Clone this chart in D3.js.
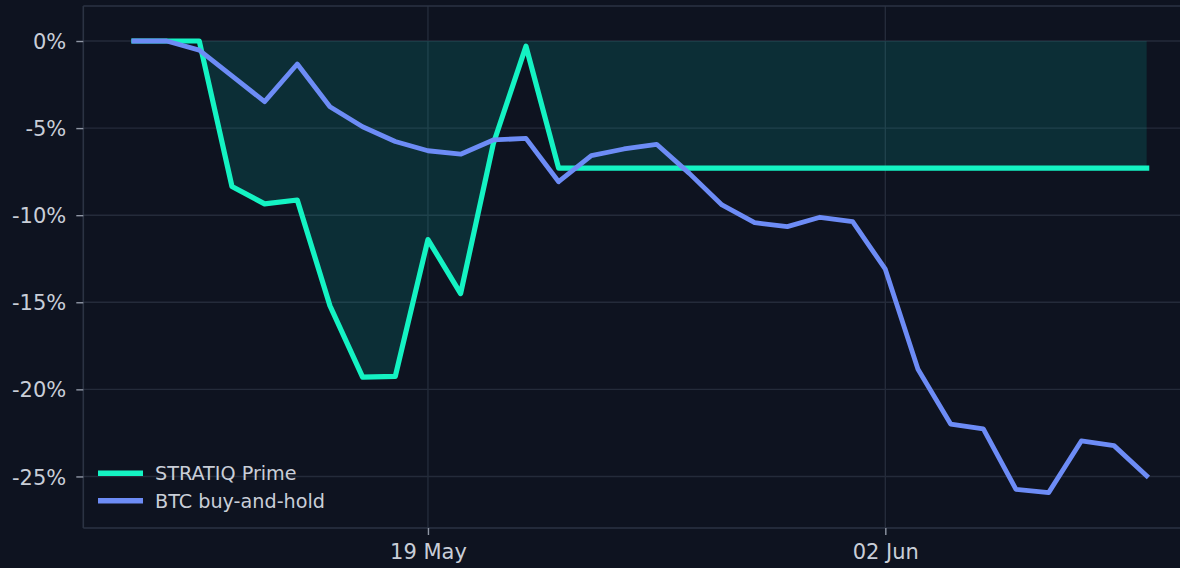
<!DOCTYPE html>
<html>
<head>
<meta charset="utf-8">
<script src="https://cdn.jsdelivr.net/npm/d3@7"></script>
<style>
  html, body { margin: 0; padding: 0; background: #0e1320; }
  svg { display: block; }
  text { font-family: "DejaVu Sans", sans-serif; }
</style>
</head>
<body>
<svg id="chart" width="1180" height="568"></svg>
<script>
const dates = ["2025-05-10","2025-05-11","2025-05-12","2025-05-13","2025-05-14","2025-05-15","2025-05-16","2025-05-17",
  "2025-05-18","2025-05-19","2025-05-20","2025-05-21","2025-05-22","2025-05-23","2025-05-24","2025-05-25",
  "2025-05-26","2025-05-27","2025-05-28","2025-05-29","2025-05-30","2025-05-31","2025-06-01","2025-06-02",
  "2025-06-03","2025-06-04","2025-06-05","2025-06-06","2025-06-07","2025-06-08","2025-06-09","2025-06-10"];
const stratiq = [0, 0, 0, -8.35, -9.35, -9.13, -15.2, -19.3, -19.25, -11.4, -14.5, -5.9, -0.3, -7.3,
  -7.3, -7.3, -7.3, -7.3, -7.3, -7.3, -7.3, -7.3, -7.3, -7.3, -7.3, -7.3, -7.3, -7.3, -7.3, -7.3, -7.3, -7.3];
const btc = [0, 0, -0.52, -2.0, -3.48, -1.32, -3.77, -4.92, -5.77, -6.3, -6.5, -5.68, -5.59, -8.08, -6.58, -6.2,
  -5.93, -7.6, -9.41, -10.43, -10.66, -10.12, -10.37, -13.1, -18.85, -21.99, -22.27, -25.74, -25.93, -22.96, -23.23, -24.97];
const yTicks = [0, -5, -10, -15, -20, -25];
const xTickLabels = ["2025-05-19", "2025-06-02"];
const seriesNames = ["STRATIQ Prime", "BTC buy-and-hold"];

const colors = { bg: "#0e1320", strat: "#14f3c3", fill: "#07c7b5", btc: "#6d8cf6", grid: "#242b3a", spine: "#2b3343", text: "#c9ced8", tick: "#9097a5" };

const parse = d3.utcParse("%Y-%m-%d");
const X = dates.map(parse);
const rows = X.map((d, i) => ({ d, s: stratiq[i], b: btc[i] }));

const svg = d3.select("#chart");
svg.append("rect").attr("width", 1180).attr("height", 568).attr("fill", colors.bg);

const dayMs = 86400000;
const pad = 1.55 * dayMs;
const x = d3.scaleUtc().domain([+X[0] - pad, +X[X.length - 1] + pad]).range([83.3, 1197.3]);
const y = d3.scaleLinear().domain([-27.96, 2.01]).range([528, 6]);

const L = 83.3, R = 1197.3, T = 6, B = 528;

// grid
svg.append("g").selectAll("line").data(yTicks).join("line")
  .attr("x1", L).attr("x2", R).attr("y1", d => y(d)).attr("y2", d => y(d))
  .attr("stroke", colors.grid).attr("stroke-width", 1.4);
svg.append("g").selectAll("line").data(xTickLabels.map(parse)).join("line")
  .attr("x1", d => x(d)).attr("x2", d => x(d)).attr("y1", T).attr("y2", B)
  .attr("stroke", colors.grid).attr("stroke-width", 1.4);

// fill between 0 and strategy
const area = d3.area().x(r => x(r.d)).y0(y(0)).y1(r => y(r.s));
svg.append("path").datum(rows).attr("d", area).attr("fill", colors.fill).attr("fill-opacity", 0.15);

// lines
const lineS = d3.line().x(r => x(r.d)).y(r => y(r.s));
const lineB = d3.line().x(r => x(r.d)).y(r => y(r.b));
svg.append("path").datum(rows).attr("d", lineS).attr("fill", "none")
  .attr("stroke", colors.strat).attr("stroke-width", 5.2).attr("stroke-linejoin", "round").attr("stroke-linecap", "square");
svg.append("path").datum(rows).attr("d", lineB).attr("fill", "none")
  .attr("stroke", colors.btc).attr("stroke-width", 4.8).attr("stroke-linejoin", "round").attr("stroke-linecap", "square");

// spines
svg.append("line").attr("x1", L).attr("x2", L).attr("y1", T).attr("y2", B).attr("stroke", colors.spine).attr("stroke-width", 1.6);
svg.append("line").attr("x1", L).attr("x2", R).attr("y1", T).attr("y2", T).attr("stroke", colors.spine).attr("stroke-width", 1.6);
svg.append("line").attr("x1", L).attr("x2", R).attr("y1", B).attr("y2", B).attr("stroke", colors.spine).attr("stroke-width", 1.6);

// axes
const yAxis = d3.axisLeft(y).tickValues(yTicks).tickSize(7).tickPadding(10).tickFormat(d => d + "%");
const gy = svg.append("g").attr("transform", `translate(${L},0)`).call(yAxis);
gy.select(".domain").remove();
gy.selectAll(".tick line").attr("stroke", colors.tick).attr("stroke-width", 1.4);
gy.selectAll(".tick text").attr("fill", colors.text).attr("font-size", 21).attr("font-family", "DejaVu Sans").attr("dy", "0.36em");

const xAxis = d3.axisBottom(x).tickValues(xTickLabels.map(parse)).tickSize(7).tickPadding(9).tickFormat(d3.utcFormat("%d %b"));
const gx = svg.append("g").attr("transform", `translate(0,${B})`).call(xAxis);
gx.select(".domain").remove();
gx.selectAll(".tick line").attr("stroke", colors.tick).attr("stroke-width", 1.4);
gx.selectAll(".tick text").attr("fill", colors.text).attr("font-size", 21).attr("font-family", "DejaVu Sans");

// legend
const legend = svg.append("g");
const legY = [473.3, 500.7];
const legC = [colors.strat, colors.btc];
seriesNames.forEach((name, i) => {
  legend.append("line").attr("x1", 98).attr("x2", 143).attr("y1", legY[i]).attr("y2", legY[i])
    .attr("stroke", legC[i]).attr("stroke-width", 5.6);
  legend.append("text").attr("x", 155).attr("y", legY[i]).attr("dy", "0.36em")
    .attr("fill", colors.text).attr("font-size", 19.2).text(name);
});
</script>
</body>
</html>
